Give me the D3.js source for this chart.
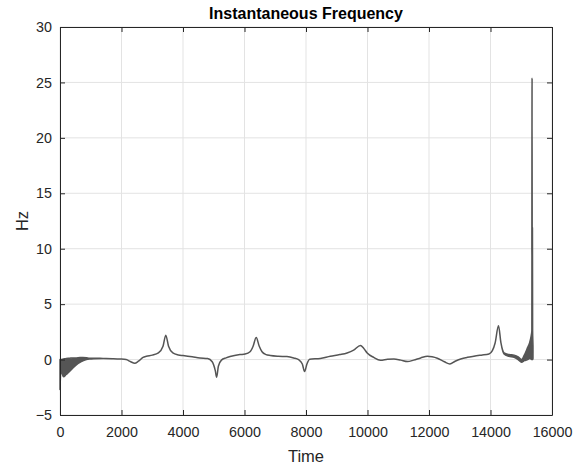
<!DOCTYPE html>
<html><head><meta charset="utf-8">
<script src="https://cdn.jsdelivr.net/npm/d3@7"></script>
<style>
body{margin:0;background:#fff;}
svg{display:block;font-family:"Liberation Sans",Arial,Helvetica,sans-serif;}
</style></head>
<body><svg id="c" width="573" height="466"></svg>
<script>
const title = "Instantaneous Frequency";
const xLabel = "Time";
const yLabel = "Hz";
const xTicks = [0,2000,4000,6000,8000,10000,12000,14000,16000];
const yTicks = [-5,0,5,10,15,20,25,30];

// sample times and upper / lower envelope of the (band-like) frequency trace
const times = [0,30,115,200,310,420,530,650,745,860,960,1100,1400,1700,1950,2150,2300,2430,2550,2700,2810,3000,3200,3350,3440,3530,3670,3850,4000,4300,4550,4800,4950,5050,5095,5150,5250,5400,5530,5850,6020,6180,6280,6380,6480,6570,6700,6840,7100,7380,7600,7760,7880,7955,8030,8120,8465,8790,9100,9335,9550,9770,9880,9990,10200,10420,10650,10860,11080,11300,11500,11730,11950,12100,12270,12500,12680,12850,13030,13250,13460,13700,13950,14060,14150,14260,14340,14440,14600,14770,14900,15010,15100,15210,15270,15320,15345,15352,15358,15364,15370,15376,15382];
const upper = [0,0,0.05,0.1,0.12,0.15,0.15,0.18,0.18,0.16,0.12,0.12,0.1,0.08,0.05,0.0,-0.2,-0.33,-0.15,0.2,0.3,0.4,0.6,1.2,2.2,1.2,0.6,0.42,0.36,0.25,0.15,0.1,-0.2,-1.0,-1.6,-0.6,-0.05,0.15,0.27,0.45,0.5,0.7,1.2,2.0,1.2,0.7,0.45,0.37,0.3,0.27,0.15,0.0,-0.4,-1.08,-0.4,0.03,0.1,0.3,0.45,0.6,0.85,1.27,1.0,0.6,0.2,-0.06,0.03,0.06,-0.05,-0.18,-0.05,0.15,0.3,0.25,0.12,-0.2,-0.4,-0.15,0.05,0.2,0.3,0.4,0.5,0.8,1.5,3.05,1.5,0.6,0.45,0.4,0.25,0.0,0.4,1.1,1.5,2.1,2.6,25.4,2.4,11.9,2.6,1.8,1.2];
const lower = [-2.7,-1.0,-1.55,-1.35,-1.08,-0.75,-0.48,-0.25,-0.12,0.0,0.05,0.08,0.1,0.08,0.05,0.0,-0.2,-0.33,-0.15,0.2,0.3,0.4,0.6,1.2,2.2,1.2,0.6,0.42,0.36,0.25,0.15,0.1,-0.2,-1.0,-1.6,-0.6,-0.05,0.15,0.27,0.45,0.5,0.7,1.2,2.0,1.2,0.7,0.45,0.37,0.3,0.27,0.15,0.0,-0.4,-1.08,-0.4,0.03,0.1,0.3,0.45,0.6,0.85,1.27,1.0,0.6,0.2,-0.06,0.03,0.06,-0.05,-0.18,-0.05,0.15,0.3,0.25,0.12,-0.2,-0.4,-0.15,0.05,0.2,0.3,0.4,0.5,0.8,1.5,3.05,1.5,0.5,0.3,0.2,0.0,-0.25,-0.1,0.0,0.1,0.05,0.0,0.0,0.1,0.0,0.2,0.0,0.1];

const margin = {left:60, right:21, top:27, bottom:51};
const W = 573, H = 466;
const svg = d3.select("#c");
const x = d3.scaleLinear().domain([0,16000]).range([margin.left, W - margin.right]);
const y = d3.scaleLinear().domain([-5,30]).range([H - margin.bottom, margin.top]);

const axisCol = "#262626";
const gridCol = "#e3e3e3";

// grid
svg.append("g").selectAll("line.gx").data(xTicks).join("line")
  .attr("x1", d=>x(d)).attr("x2", d=>x(d)).attr("y1", y(-5)).attr("y2", y(30))
  .attr("stroke", gridCol).attr("stroke-width",1);
svg.append("g").selectAll("line.gy").data(yTicks).join("line")
  .attr("x1", x(0)).attr("x2", x(16000)).attr("y1", d=>y(d)).attr("y2", d=>y(d))
  .attr("stroke", gridCol).attr("stroke-width",1);

// data
const pts = times.map((t,i)=>({t, u:upper[i], l:lower[i]}));
const area = d3.area().x(d=>x(d.t)).y0(d=>y(d.l)).y1(d=>y(d.u)).curve(d3.curveMonotoneX);
svg.append("path").datum(pts).attr("d", area)
  .attr("fill","#555").attr("stroke","#555").attr("stroke-width",1.5)
  .attr("stroke-linejoin","round");

// axes
const tickFont = "14.3px";
const gx = svg.append("g").attr("transform",`translate(0,${y(-5)})`)
  .call(d3.axisBottom(x).tickValues(xTicks).tickFormat(d3.format("d")).tickSizeInner(-5).tickSizeOuter(0).tickPadding(12));
const gxt = svg.append("g").attr("transform",`translate(0,${y(30)})`)
  .call(d3.axisTop(x).tickValues(xTicks).tickFormat("").tickSizeInner(-5).tickSizeOuter(0));
const gy = svg.append("g").attr("transform",`translate(${x(0)},0)`)
  .call(d3.axisLeft(y).tickValues(yTicks).tickSizeInner(-5).tickSizeOuter(0).tickPadding(8));
const gyr = svg.append("g").attr("transform",`translate(${x(16000)},0)`)
  .call(d3.axisRight(y).tickValues(yTicks).tickFormat("").tickSizeInner(-5).tickSizeOuter(0));
[gx,gxt,gy,gyr].forEach(g=>{
  g.select(".domain").attr("stroke",axisCol).attr("stroke-width",1);
  g.selectAll(".tick line").attr("stroke",axisCol);
  g.selectAll(".tick text").attr("fill",axisCol).style("font-size",tickFont)
    .style("font-family",'"Liberation Sans",Arial,sans-serif');
});

// labels
svg.append("text").attr("x",(x(0)+x(16000))/2).attr("y",461.5).attr("text-anchor","middle")
  .attr("fill",axisCol).style("font-size","16.5px").text(xLabel);
svg.append("text").attr("transform",`translate(28,${(y(-5)+y(30))/2}) rotate(-90)`)
  .attr("text-anchor","middle").attr("fill",axisCol).style("font-size","16.5px").text(yLabel);
svg.append("text").attr("x",(x(0)+x(16000))/2).attr("y",18.5).attr("text-anchor","middle")
  .attr("fill","#000").style("font-size","16px").style("font-weight","bold").text(title);
</script></body></html>
